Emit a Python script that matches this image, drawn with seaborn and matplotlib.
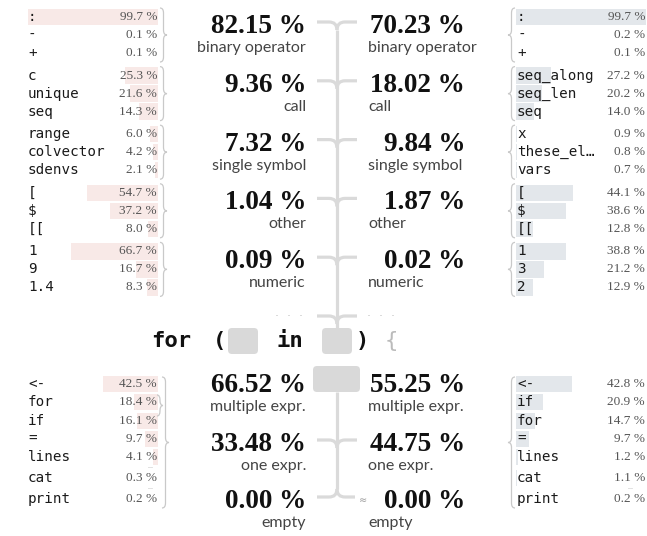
import pandas as pd
import seaborn as sns
import matplotlib.pyplot as plt
from matplotlib.path import Path
from matplotlib.patches import PathPatch, FancyBboxPatch

# what stands in the seq slot of `for (x in seq)`, two corpora side by side
seq_kinds = ['binary operator', 'call', 'single symbol', 'other', 'numeric']
seq_left = [82.15, 9.36, 7.32, 1.04, 0.09]
seq_right = [70.23, 18.02, 9.84, 1.87, 0.02]

# top three items for each kind
left_items = [[':', '-', '+'], ['c', 'unique', 'seq'], ['range', 'colvector', 'sdenvs'],
              ['[', '$', '[['], ['1', '9', '1.4']]
left_item_pct = [[99.7, 0.1, 0.1], [25.3, 21.6, 14.3], [6.0, 4.2, 2.1],
                 [54.7, 37.2, 8.0], [66.7, 16.7, 8.3]]
right_items = [[':', '-', '+'], ['seq_along', 'seq_len', 'seq'], ['x', 'these_el…', 'vars'],
               ['[', '$', '[['], ['1', '3', '2']]
right_item_pct = [[99.7, 0.2, 0.1], [27.2, 20.2, 14.0], [0.9, 0.8, 0.7],
                  [44.1, 38.6, 12.8], [38.8, 21.2, 12.9]]

# the loop body
body_kinds = ['multiple expr.', 'one expr.', 'empty']
body_left = [66.52, 33.48, 0.00]
body_right = [55.25, 44.75, 0.00]
body_left_items = ['<-', 'for', 'if', '=', 'lines', 'cat', 'print']
body_left_pct = [42.5, 18.4, 16.1, 9.7, 4.1, 0.3, 0.2]
body_right_items = ['<-', 'if', 'for', '=', 'lines', 'cat', 'print']
body_right_pct = [42.8, 20.9, 14.7, 9.7, 1.2, 1.1, 0.2]

W, H = 647, 536
MONO = 'DejaVu Sans Mono'
SERIF = 'Liberation Serif'
SANS = 'Lato'
LINE = '#dadada'

# row layout (pixels from the top)
top_rows = [[17 + 58.6 * g + 18 * i for i in range(3)] for g in range(5)]
body_rows = [384, 402, 421, 439, 457, 478, 499]
seq_levels = [22 + 58.8 * k for k in range(6)]
body_levels = [381, 440, 497]

fig = plt.figure(figsize=(W / 100, H / 100), dpi=100)


def px_axes(x0, x1):
    a = fig.add_axes([x0 / W, 0, (x1 - x0) / W, 1])
    return a


def bar_column(x0, x1, rows, pct, color, flip):
    a = px_axes(x0, x1)
    df = pd.DataFrame({'pos': rows, 'pct': pct})
    sns.barplot(data=df, x='pct', y='pos', orient='h', native_scale=True, width=0.92,
                color=color, saturation=1, errorbar=None, ax=a)
    a.set_xlim((100, 0) if flip else (0, 100))
    a.set_ylim(H, 0)
    a.axis('off')


left_rows = [r for g in top_rows for r in g] + body_rows
bar_column(28, 158, left_rows, [p for g in left_item_pct for p in g] + body_left_pct, '#f8e9e7', True)
bar_column(516, 646, left_rows, [p for g in right_item_pct for p in g] + body_right_pct, '#e3e7eb', False)

ax = fig.add_axes([0, 0, 1, 1])
ax.set_xlim(0, W)
ax.set_ylim(H, 0)
ax.axis('off')


def brace(x, y0, y1, w, d, ym=None):
    ym = (y0 + y1) / 2 if ym is None else ym
    h = x + d * w / 2
    r = 5
    verts = [(x, y0), (h, y0), (h, y0 + r), (h, ym - r), (h, ym), (x + d * w, ym),
             (h, ym), (h, ym + r), (h, y1 - r), (h, y1), (x, y1)]
    codes = [Path.MOVETO, Path.CURVE3, Path.CURVE3, Path.LINETO, Path.CURVE3, Path.CURVE3,
             Path.CURVE3, Path.CURVE3, Path.LINETO, Path.CURVE3, Path.CURVE3]
    ax.add_patch(PathPatch(Path(verts, codes), fc='none', ec='#c9c9c9', lw=0.9))


def branch(y, xt, down=1, xl=317, xr=357, r=8):
    for xe, s in ((xl, -1), (xr, 1)):
        verts = [(xe, y), (xt + s * r, y), (xt, y), (xt, y + down * r)]
        codes = [Path.MOVETO, Path.LINETO, Path.CURVE3, Path.CURVE3]
        ax.add_patch(PathPatch(Path(verts, codes), fc='none', ec=LINE, lw=2.3, capstyle='butt'))


def item_texts(x_lab, x_pct, rows, labels, pct):
    for y, lab, p in zip(rows, labels, pct):
        ax.text(x_lab, y, lab, family=MONO, fontsize=10.3, color='#1a1a1a', ha='left', va='center')
        ax.text(x_pct, y, f'{p:.1f} %', family=SERIF, fontsize=9.5, color='#555555',
                ha='right', va='center')


# small item lists with their braces
for g in range(5):
    item_texts(28, 157, top_rows[g], left_items[g], left_item_pct[g])
    item_texts(517, 645, top_rows[g], right_items[g], right_item_pct[g])
    brace(160, top_rows[g][0] - 9, top_rows[g][2] + 9, 7, 1)
    brace(515, top_rows[g][0] - 9, top_rows[g][2] + 9, 7, -1)

item_texts(28, 157, body_rows, body_left_items, body_left_pct)
item_texts(517, 645, body_rows, body_right_items, body_right_pct)
brace(162, 377, 508, 7, 1)
brace(157, 395, 416, 6, 1)
brace(515, 377, 508, 7, -1)
for y in (467.5, 488.5):
    ax.text(150, y, '···', fontsize=4.5, color='#777777', ha='center', va='center')
ax.text(630, 488.5, '···', fontsize=4.5, color='#777777', ha='center', va='center')


def big_numbers(levels, kinds, lv, rv):
    for y, kind, a, b in zip(levels, kinds, lv, rv):
        ax.text(306, y + 11, f'{a:.2f} %', family=SERIF, weight='bold', fontsize=19.5,
                color='#111111', ha='right', va='baseline')
        ax.text(465, y + 11, f'{b:.2f} %', family=SERIF, weight='bold', fontsize=19.5,
                color='#111111', ha='right', va='baseline')
        ax.text(306, y + 30, kind, family=SANS, fontsize=11.5, color='#444444',
                ha='right', va='baseline')
        ax.text(368, y + 30, kind, family=SANS, fontsize=11.5, color='#444444',
                ha='left', va='baseline')


big_numbers(seq_levels, seq_kinds, seq_left, seq_right)
big_numbers(body_levels, body_kinds, body_left, body_right)

# tree above the seq placeholder
xt = 337
ax.plot([xt, xt], [seq_levels[0] + 8, 328], color=LINE, lw=2.3, solid_capstyle='butt')
for y in seq_levels:
    branch(y, xt)
ax.text(289, seq_levels[-1], '·  ·  ·', fontsize=9, color='#c4c4c4', ha='center', va='center')
ax.text(381, seq_levels[-1], '·  ·  ·', fontsize=9, color='#c4c4c4', ha='center', va='center')

# tree below the body placeholder
ax.plot([xt, xt], [392, body_levels[2] - 8], color=LINE, lw=2.3, solid_capstyle='butt')
branch(body_levels[1], xt)
branch(body_levels[2], xt, down=-1, xr=355)
ax.text(363, body_levels[2] + 3, '≈', fontsize=7, color='#999999', ha='center', va='center')

# the for loop itself
for x0, y0, w, h in ((228, 328, 30, 26), (322, 328, 30, 26), (313, 366, 47, 26)):
    ax.add_patch(FancyBboxPatch((x0, y0), w, h, boxstyle='round,pad=0,rounding_size=4',
                                fc='#d9d9d9', ec='none'))
for x0, s in ((151, 'for'), (213, '('), (276, 'in'), (356, ')')):
    ax.text(x0, 341, s, family=MONO, weight='bold', fontsize=16, color='#111111',
            ha='left', va='center')
ax.text(385, 341, '{', family=MONO, fontsize=16, color='#bbbbbb', ha='left', va='center')

fig.savefig('out.png', dpi=100)
